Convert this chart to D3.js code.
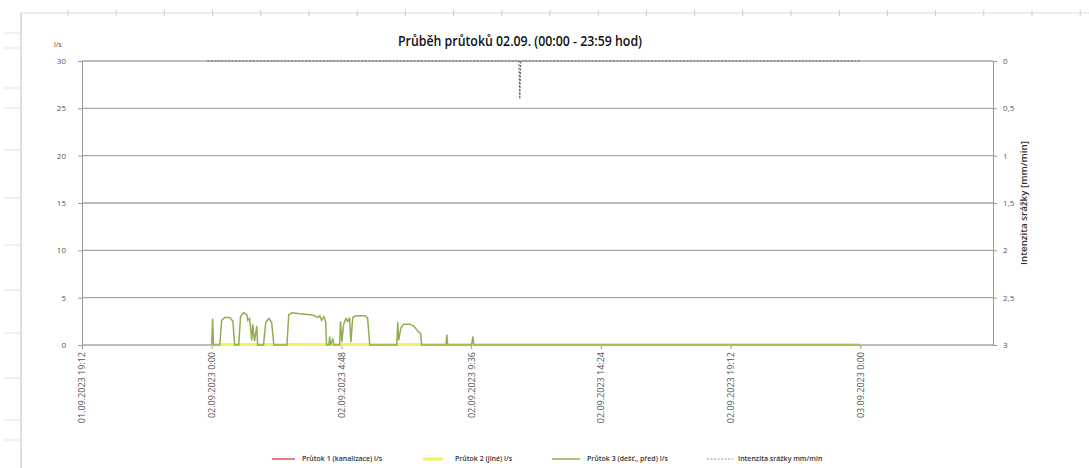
<!DOCTYPE html>
<html lang="cs">
<meta charset="utf-8">
<style>
body { margin: 0; background: #fff; }
text { font-family: "Open Sans", "Liberation Sans", sans-serif; fill: #333; }
.axis text { font-size: 8px; fill: #555; }
.axis path, .axis line { stroke: #999; }
</style>
<body>
<script src="https://d3js.org/d3.v7.min.js"></script>
<script>
// minutes after 02.09.2023 0:00
var flowMin = [0, 2, 4, 18, 22, 29, 40, 47, 51, 60, 64, 71, 78, 80, 84, 89, 91, 95, 100, 102,
  115, 120, 127, 133, 138, 167, 171, 178, 195, 218, 229, 235, 240, 244, 249, 253, 255,
  260, 262, 264, 269, 271, 284, 286, 289, 293, 298, 302, 306, 309, 313, 320, 340, 346, 351,
  411, 413, 415, 420, 426, 440, 449, 457, 464, 466, 520, 522, 524, 577, 580, 582, 1439];
// Průtok 3, l/s
var flow3 = [0, 2.8, 0, 0, 2.6, 2.9, 2.9, 2.5, 0, 0, 3.0, 3.4, 3.2, 2.6, 2.8, 0.5, 2.2, 0.4, 2.0, 0,
  0, 2.4, 2.8, 2.4, 0, 0, 3.2, 3.4, 3.3, 3.2, 3.1, 2.9, 3.1, 2.6, 3.0, 2.5, 0,
  0, 0.9, 0, 0.7, 0, 0, 2.5, 0.3, 2.2, 2.8, 2.5, 2.9, 0.3, 2.9, 3.1, 3.1, 2.9, 0,
  0, 2.4, 0.5, 1.8, 2.2, 2.2, 2.0, 1.5, 1.2, 0, 0, 1.1, 0, 0, 0.9, 0, 0];
// Průtok 1 and 2, l/s
var flowMin12 = [0, 1439];
var flow1 = [0, 0];
var flow2 = [0.05, 0.05];
// Intenzita srážky, mm/min
var rainMin = [-10, 682, 684, 686, 1439];
var rain = [0, 0, 0.4, 0, 0];

var yLeftTicks = [0, 5, 10, 15, 20, 25, 30];
var yRightTicks = [0, 0.5, 1, 1.5, 2, 2.5, 3];
var xTickCount = 7;
var legendLabels = ["Průtok 1 (kanalizace) l/s", "Průtok 2 (jiné) l/s", "Průtok 3 (dešť., před) l/s", "Intenzita srážky mm/min"];

var w = 1089, h = 468;
var pL = 82, pR = 990, pT = 61, pB = 345;

var day0 = new Date(2023, 8, 2, 0, 0);
function toDate(m) { return new Date(day0.getTime() + m * 60000); }
var start = new Date(2023, 8, 1, 19, 12);

var x = d3.scaleTime()
  .domain([start, new Date(2023, 8, 3, 4, 48)])
  .range([pL, pR]);
var yL = d3.scaleLinear().domain([0, 30]).range([pB, pT]);
var yR = d3.scaleLinear().domain([0, 3]).range([pT, pB]);

var svg = d3.select("body").append("svg")
  .attr("width", w).attr("height", h);

// spreadsheet frame
svg.append("line").attr("x1", 21).attr("x2", w).attr("y1", 13).attr("y2", 13)
  .attr("stroke", "#ddd");
svg.append("line").attr("x1", 21).attr("x2", 21).attr("y1", 13).attr("y2", h)
  .attr("stroke", "#bbb");
svg.selectAll(".ct").data(d3.range(68, w, 48.2)).enter().append("line")
  .attr("x1", function(d) { return d; }).attr("x2", function(d) { return d; })
  .attr("y1", 10).attr("y2", 16).attr("stroke", "#ccc");
svg.selectAll(".rt").data([33, 48, 88, 108, 150, 198, 245, 290, 333, 378, 420, 440]).enter().append("line")
  .attr("x1", 4).attr("x2", 21)
  .attr("y1", function(d) { return d; }).attr("y2", function(d) { return d; })
  .attr("stroke", "#e2e2e2");

// gridlines
svg.append("g").selectAll("line").data(yLeftTicks).enter().append("line")
  .attr("x1", pL).attr("x2", pR + 3)
  .attr("y1", function(d) { return yL(d); }).attr("y2", function(d) { return yL(d); })
  .attr("stroke", "#a6a6a6").attr("stroke-width", 1.3);

// axes
var xTicks = d3.range(xTickCount).map(function(i) { return new Date(start.getTime() + i * 288 * 60000); });
var fmt = function(d) {
  return d3.timeFormat("%d.%m.%Y ")(d) + d.getHours() + ":" + d3.timeFormat("%M")(d);
};
var gx = svg.append("g").attr("class", "axis")
  .attr("transform", "translate(0," + pB + ")")
  .call(d3.axisBottom(x).tickValues(xTicks).tickFormat(fmt).tickSize(4).tickSizeOuter(0));
gx.select(".domain").remove();
gx.selectAll("text")
  .attr("transform", "rotate(-90)")
  .attr("x", -7).attr("y", 0).attr("dy", "0.32em")
  .style("font-size", "9px")
  .style("text-anchor", "end");

var gl = svg.append("g").attr("class", "axis")
  .attr("transform", "translate(" + pL + ",0)")
  .call(d3.axisLeft(yL).tickValues(yLeftTicks).tickSize(4).tickPadding(12).tickSizeOuter(0));

var gr = svg.append("g").attr("class", "axis")
  .attr("transform", "translate(" + (pR + 3) + ",0)")
  .call(d3.axisRight(yR).tickValues(yRightTicks).tickSize(4).tickPadding(6).tickSizeOuter(0)
    .tickFormat(function(d) { return String(d).replace(".", ","); }));
gr.select(".domain").attr("stroke", "#e4e4e4");

// series
function series(times, vals, scale, color, width, dash) {
  var pts = times.map(function(t, i) { return [toDate(t), vals[i]]; });
  svg.append("path").datum(pts)
    .attr("fill", "none").attr("stroke", color).attr("stroke-width", width)
    .attr("stroke-dasharray", dash || null)
    .attr("d", d3.line().x(function(d) { return x(d[0]); }).y(function(d) { return scale(d[1]); }));
}
series(flowMin12, flow1, yL, "#e0505a", 1.5);
series(flowMin12, flow2, yL, "#f2f25a", 3);
series(flowMin, flow3, yL, "#8fae52", 1.5);
series(rainMin, rain, yR, "#666", 1.2, "2,1.5");

// titles
svg.append("text").attr("x", 520).attr("y", 46)
  .attr("text-anchor", "middle")
  .attr("textLength", 244).attr("lengthAdjust", "spacingAndGlyphs")
  .style("font-size", "14px").style("font-weight", 600).style("fill", "#111")
  .text("Průběh průtoků  02.09. (00:00 - 23:59 hod)");
svg.append("text").attr("x", 54).attr("y", 47)
  .style("font-size", "7px").style("fill", "#444").text("l/s");
svg.append("text")
  .attr("transform", "translate(1027,203) rotate(-90)")
  .attr("text-anchor", "middle")
  .attr("textLength", 124).attr("lengthAdjust", "spacingAndGlyphs")
  .style("font-size", "8px").style("font-weight", 600).style("fill", "#333")
  .text("Intenzita srážky [mm/min]");

// legend
var legLine = [[272, 295], [423, 443], [552, 580], [707, 733]];
var legText = [302, 455, 587, 738];
var legColor = ["#e0505a", "#f2f25a", "#8fae52", "#bbb"];
var leg = svg.append("g").selectAll("g").data(legendLabels).enter().append("g");
leg.append("line")
  .attr("x1", function(d, i) { return legLine[i][0]; })
  .attr("x2", function(d, i) { return legLine[i][1]; })
  .attr("y1", 459).attr("y2", 459)
  .attr("stroke", function(d, i) { return legColor[i]; })
  .attr("stroke-width", function(d, i) { return i === 1 ? 3 : 1.5; })
  .attr("stroke-dasharray", function(d, i) { return i === 3 ? "2,1.5" : null; });
leg.append("text")
  .attr("x", function(d, i) { return legText[i]; })
  .attr("y", 459).attr("dy", "0.32em")
  .style("font-size", "7px").style("font-weight", 600).style("fill", "#333")
  .text(function(d) { return d; });
</script>
</body>
</html>
